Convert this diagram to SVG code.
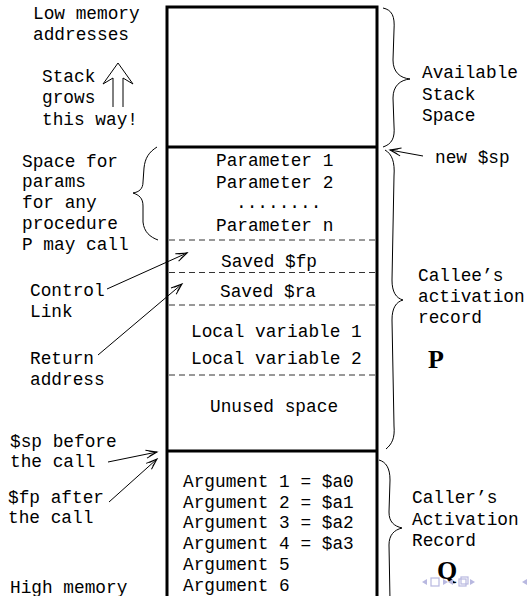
<svg xmlns="http://www.w3.org/2000/svg" width="529" height="596" viewBox="0 0 529 596">
<style>
text{font-family:"Liberation Mono","DejaVu Sans Mono",monospace;font-size:17.8px;fill:#000}
.big{font-family:"Liberation Serif","Times New Roman",serif;font-weight:bold;font-size:26px}
.wall{stroke:#000;stroke-width:3;fill:none}
.dash{stroke:#333;stroke-width:1;stroke-dasharray:6 4;fill:none}
.thin{stroke:#000;stroke-width:1;fill:none}
.nav{fill:#b8b8e0;stroke:none}
.navs{fill:none;stroke:#b8b8e0;stroke-width:1.2}
</style>
<defs>
<marker id="ah" markerWidth="14" markerHeight="10" refX="12" refY="5" orient="auto" markerUnits="userSpaceOnUse">
<path d="M1,1 L12,5 L1,9 M4,2.5 L12,5 L4,7.5" fill="none" stroke="#000" stroke-width="1"/>
</marker>
</defs>
<rect width="529" height="596" fill="#fff"/>

<g id="stack">
<path class="wall" d="M167,596 V7 H377 V596"/>
<line class="wall" x1="167" y1="147" x2="377" y2="147"/>
<line class="wall" x1="167" y1="451" x2="377" y2="451"/>
</g>

<g id="params">
<text x="216" y="166">Parameter 1</text>
<text x="216" y="188">Parameter 2</text>
<text x="236" y="208">........</text>
<text x="216" y="231">Parameter n</text>
<line class="dash" x1="169" y1="240" x2="375" y2="240"/>
</g>

<g id="saved-fp">
<text x="221" y="267">Saved $fp</text>
<line class="dash" x1="169" y1="272.5" x2="375" y2="272.5"/>
</g>

<g id="saved-ra">
<text x="220" y="297">Saved $ra</text>
<line class="dash" x1="169" y1="305" x2="375" y2="305"/>
</g>

<g id="locals">
<text x="191" y="337">Local variable 1</text>
<text x="191" y="364">Local variable 2</text>
<line class="dash" x1="169" y1="375" x2="375" y2="375"/>
</g>

<g id="unused">
<text x="210" y="412">Unused space</text>
</g>

<g id="arguments">
<text x="183" y="487">Argument 1 = $a0</text>
<text x="183" y="508">Argument 2 = $a1</text>
<text x="183" y="528">Argument 3 = $a2</text>
<text x="183" y="549">Argument 4 = $a3</text>
<text x="183" y="570">Argument 5</text>
<text x="183" y="591">Argument 6</text>
</g>

<g id="low-memory">
<text x="33" y="19">Low memory</text>
<text x="33" y="40">addresses</text>
</g>

<g id="stack-grows">
<text x="42" y="82">Stack</text>
<text x="42" y="103">grows</text>
<text x="42" y="125">this way!</text>
<path class="thin" d="M113,107 V78 L103,84 L118,63 L133,84 L123,78 V107"/>
</g>

<g id="space-for-params">
<text x="22" y="167">Space for</text>
<text x="22" y="187">params</text>
<text x="22" y="208">for any</text>
<text x="22" y="229">procedure</text>
<text x="22" y="250">P may call</text>
</g>

<g id="control-link">
<text x="30" y="296">Control</text>
<text x="30" y="317">Link</text>
</g>

<g id="return-address">
<text x="30" y="364">Return</text>
<text x="30" y="385">address</text>
</g>

<g id="sp-before">
<text x="10" y="447">$sp before</text>
<text x="10" y="467">the call</text>
</g>

<g id="fp-after">
<text x="8" y="503">$fp after</text>
<text x="8" y="523">the call</text>
</g>

<g id="high-memory">
<text x="10" y="593">High memory</text>
</g>

<g id="available-label">
<text x="422" y="78">Available</text>
<text x="422" y="100">Stack</text>
<text x="422" y="121">Space</text>
</g>

<g id="new-sp">
<text x="435" y="163">new $sp</text>
</g>

<g id="callee-label">
<text x="418" y="281">Callee’s</text>
<text x="418" y="302">activation</text>
<text x="418" y="323">record</text>
<text class="big" x="428" y="368">P</text>
</g>

<g id="caller-label">
<text x="412" y="503">Caller’s</text>
<text x="412" y="525">Activation</text>
<text x="412" y="546">Record</text>
<text class="big" x="437" y="579">Q</text>
</g>

<g id="connectors">
<path class="thin" d="M107,289 L187,253" marker-end="url(#ah)"/>
<path class="thin" d="M98,355 L182,284" marker-end="url(#ah)"/>
<path class="thin" d="M108,462 L157,452" marker-end="url(#ah)"/>
<path class="thin" d="M109,502 L157,459" marker-end="url(#ah)"/>
<path class="thin" d="M423,156 L390,150" marker-end="url(#ah)"/>
<path class="thin" d="M383,8 C392,10 395,16 394,30 L393,60 C393,72 400,78 410,79 C400,80 393,86 393,98 L394,126 C395,138 392,144 383,147"/>
<path class="thin" d="M385,150 C392,154 395,162 394,176 L392,280 C392,292 396,298 403,300 C396,302 392,308 392,320 L394,426 C395,438 392,444 386,449"/>
<path class="thin" d="M379,460 C386,462 390,468 390,480 L389,512 C389,522 394,526 402,528 C394,530 389,535 389,545 L390,600"/>
<path class="thin" d="M157,147 C149,152 145,158 144,168 L143,182 C143,189 139,192 133,193 C139,195 143,198 143,206 L143,222 C144,232 150,237 158,240"/>
</g>

<g id="nav-icons">
<path class="nav" d="M422,582 L427,579 L427,585 Z"/>
<rect class="navs" x="431" y="578" width="8" height="8"/>
<path class="nav" d="M443,579 L448,582 L443,585 Z"/>
<path class="nav" d="M448,582 L453,579 L453,585 Z"/>
<rect class="navs" x="459" y="579" width="7" height="7"/>
<rect class="navs" x="461" y="577" width="7" height="7"/>
<path class="nav" d="M470,579 L475,582 L470,585 Z"/>
<path class="nav" d="M522,582 L527,579 L527,585 Z"/>
</g>
</svg>
